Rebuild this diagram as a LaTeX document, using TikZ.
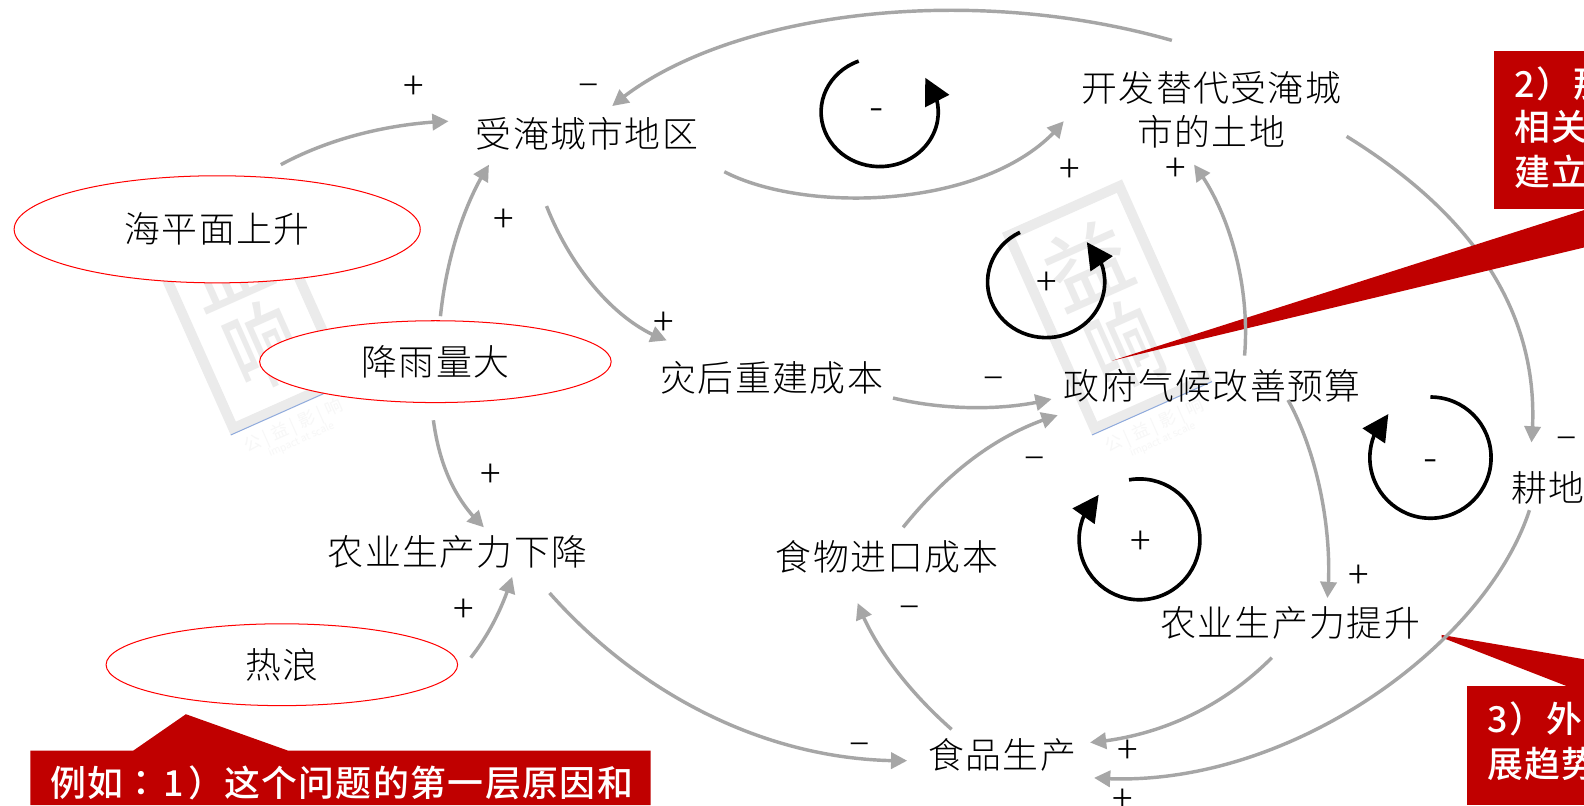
\documentclass[tikz,border=0pt]{standalone}
\usepackage{fontspec}
\usetikzlibrary{arrows.meta,bending,shapes.geometric}
\setmainfont{Noto Sans CJK SC}
\newfontfamily\cjklight[LetterSpace=4]{Noto Sans CJK SC Light}
\newfontfamily\cjkthin{Noto Sans CJK SC Light}
\newfontfamily\cjkmed[LetterSpace=4]{Noto Sans CJK SC Medium}
\newfontfamily\cjkpunct[LetterSpace=4]{Noto Sans CJK TC Medium}
\newfontfamily\cjkreg{Noto Sans CJK SC}
\newfontfamily\cjkheavy{Noto Sans CJK SC Medium}
\definecolor{conn}{HTML}{A6A6A6}
\definecolor{deepred}{HTML}{C00000}
\definecolor{wmgray}{HTML}{EBEBEB}
\definecolor{wmfaint}{HTML}{F7F7F7}
\definecolor{wmblue}{HTML}{8FAADC}
\tikzset{
  term/.style={inner sep=0pt,align=center,text=black,font=\fontsize{35.5}{44}\selectfont\cjklight},
  cause/.style={ellipse,draw=red,fill=white,line width=1pt,inner sep=0pt},
  plussign/.style={inner sep=0pt,text=black,yshift=-3.5pt,xshift=1pt,font=\fontsize{38}{38}\selectfont\cjkthin},
  minussign/.style={inner sep=0pt,text=black,yshift=-6pt,xshift=1pt,font=\fontsize{38}{38}\selectfont\cjkthin},
  loopminus/.style={inner sep=0pt,text=black,yshift=-6pt,font=\fontsize{42}{42}\selectfont\cjkthin},
  link/.style={draw=conn,line width=3.4pt,-{Triangle[length=16pt,width=16pt]}},
  loopline/.style={draw=black,line width=3.6pt,-{Triangle[length=26pt,width=26pt]}},
  redtext/.style={inner sep=0pt,anchor=west,text=white,font=\fontsize{35.5}{35.5}\selectfont\cjkmed},
}
\newcommand{\wmark}[2]{%
  \begin{scope}[shift={(#1,#2)},rotate=24,transform shape]
    \draw[wmgray,line width=10pt] (5,-5) rectangle (125,-214);
    \node[inner sep=0pt,text=wmgray,font=\fontsize{84}{84}\selectfont\cjkheavy] at (65,-156) {益};
    \node[inner sep=0pt,text=wmgray,xscale=.82,yscale=1.1,font=\fontsize{84}{84}\selectfont\cjkheavy] at (65,-68) {响};
    \draw[wmblue,line width=1pt] (0,0) -- (130,0);
    \node[inner sep=0pt,text=wmfaint,font=\fontsize{17}{17}\selectfont\cjkreg] at (60,18) {公 | 益 | 影 | 响};
    \node[inner sep=0pt,text=wmfaint,font=\fontsize{10}{10}\selectfont\cjkreg] at (62,33) {impact at scale};
  \end{scope}}
\begin{document}
\begin{tikzpicture}[x=1pt,y=-1pt]
\useasboundingbox (0,0) rectangle (1568,797);
\clip (0,0) rectangle (1568,797);
\fill[white] (0,0) rectangle (1568,797);
\wmark{228.4}{430.6}
\wmark{1081}{430.6}
% nodes
\node[cause,minimum width=402pt,minimum height=106pt] (S) at (215,227) {};
\node[cause,minimum width=348pt,minimum height=81pt] (W) at (431,358) {};
\node[cause,minimum width=348pt,minimum height=81pt] (H) at (279,658) {};
\node[term] at (S.center) {海平面上升};
\node[term] at (W.center) {降雨量大};
\node[term] at (H.center) {热浪};
\node[term] (F) at (581,132) {受淹城市地区};
\node[term] (A) at (1199,109) {开发替代受淹城\\市的土地};
\node[term] (R) at (764,374) {灾后重建成本};
\node[term] (G) at (1200,382) {政府气候改善预算};
\node[term] (L) at (453,546) {农业生产力下降};
\node[term] (I) at (878,551) {食物进口成本};
\node[term] (U) at (1277,617) {农业生产力提升};
\node[term] (P) at (992,747) {食品生产};
\node[term] (D) at (1532,483) {耕地};
% connector under the red wedge
\draw[link] ([shift={(134,26)}]A.center) .. controls (1430,195) and (1530,290) .. ([shift={(-16,-45)}]D.center);
% red callouts
\fill[deepred] (1101,357) -- (1568,208) -- (1568,245) -- cycle;
\fill[deepred] (1479,50.5) rectangle (1568,206.5);
\fill[deepred] (1427,628.5) -- (1568,652.6) -- (1568,680) -- (1553,680) -- (1427,631) -- cycle;
\fill[deepred] (1452,679.5) rectangle (1568,797);
\fill[deepred] (30,797) -- (30,743) -- (132,743) -- (184,707) -- (285,743) -- (644,743) -- (644,797) -- cycle;
\node[redtext] (b2a) at (1499,83) {2\kern2pt{\cjkpunct ）}\kern1pt 那};
\node[redtext] (b2b) at (1499,126) {相关};
\node[redtext] (b2c) at (1499,170) {建立};
\node[redtext] (b3a) at (1472,712) {3\kern2pt{\cjkpunct ）}\kern1pt 外};
\node[redtext] (b3b) at (1472,756) {展趋势};
\node[redtext] (b1) at (50,775) {例如{\cjkpunct ：}\kern4pt 1\kern4pt{\cjkpunct ）}这个问题的第一层原因和};
% connectors
\draw[link] ([shift={(63,-64)}]S.center) .. controls (330,135) and (390,122) .. ([shift={(-137,-12)}]F.center);
\draw[link] ([shift={(-39,-69)}]A.center) .. controls (950,-20) and (710,15) .. ([shift={(25,-27)}]F.center);
\draw[link] ([shift={(136,38)}]F.center) .. controls (800,213) and (985,207) .. ([shift={(-146,11)}]A.center);
\draw[link] ([shift={(5,-45)}]W.center) .. controls (442,255) and (460,200) .. ([shift={(-97,31)}]F.center);
\draw[link] ([shift={(-40,72)}]F.center) .. controls (565,265) and (610,320) .. ([shift={(-104,-37)}]R.center);
\draw[link] ([shift={(120,20)}]R.center) .. controls (930,405) and (990,408) .. ([shift={(-159,13)}]G.center);
\draw[link] ([shift={(-2,58)}]W.center) .. controls (435,460) and (450,495) .. ([shift={(26,-24)}]L.center);
\draw[link] ([shift={(187,-7)}]H.center) .. controls (485,627) and (498,600) .. ([shift={(54,25)}]L.center);
\draw[link] ([shift={(91,41)}]L.center) .. controls (640,695) and (770,755) .. ([shift={(-94,6)}]P.center);
\draw[link] ([shift={(-50,-25)}]P.center) .. controls (900,685) and (865,640) .. ([shift={(-29,46)}]I.center);
\draw[link] ([shift={(16,-29)}]I.center) .. controls (940,465) and (990,428) .. ([shift={(-153,29)}]G.center);
\draw[link] ([shift={(32,-30)}]G.center) .. controls (1238,280) and (1215,205) .. ([shift={(-17,54)}]A.center);
\draw[link] ([shift={(75,14)}]G.center) .. controls (1305,450) and (1320,530) .. ([shift={(37,-25)}]U.center);
\draw[link] ([shift={(-18,34)}]U.center) .. controls (1205,705) and (1140,730) .. ([shift={(87,-12)}]P.center);
\draw[link] ([shift={(-18,22)}]D.center) .. controls (1470,640) and (1270,785) .. ([shift={(91,23)}]P.center);
% feedback loops
\draw[loopline] (850,60.5) arc[start angle=111,end angle=399,x radius=58pt,y radius=54pt];
\draw[loopline] (1009.7,230) arc[start angle=116.5,end angle=406,x radius=58pt,y radius=55pt];
\draw[loopline] (1416,393) arc[start angle=90,end angle=-226,radius=60pt];
\draw[loopline] (1117.6,475) arc[start angle=100,end angle=-227.5,radius=59.8pt];
% signs
\node[plussign] (s1) at (409,83) {+};
\node[minussign] (s2) at (582,83) {–};
\node[plussign] (s3) at (498,215) {+};
\node[plussign] (s4) at (656,317) {+};
\node[minussign] (s5) at (983,373) {–};
\node[plussign] (s6) at (1058,166) {+};
\node[plussign] (s7) at (1163,165) {+};
\node[minussign] (s8) at (1023,452) {–};
\node[plussign] (s9) at (485,467) {+};
\node[plussign] (s10) at (458,601) {+};
\node[minussign] (s11) at (899,600) {–};
\node[plussign] (s12) at (1344,567) {+};
\node[minussign] (s13) at (1550,432) {–};
\node[minussign] (s14) at (850,735) {–};
\node[plussign] (s15) at (1115,741) {+};
\node[plussign] (s16) at (1110,789) {+};
\node[loopminus] (l1) at (868,108) {-};
\node[plussign] (l2) at (1035,277) {+};
\node[loopminus] (l3) at (1416,455) {-};
\node[plussign] (l4) at (1128,534) {+};
\end{tikzpicture}
\end{document}
